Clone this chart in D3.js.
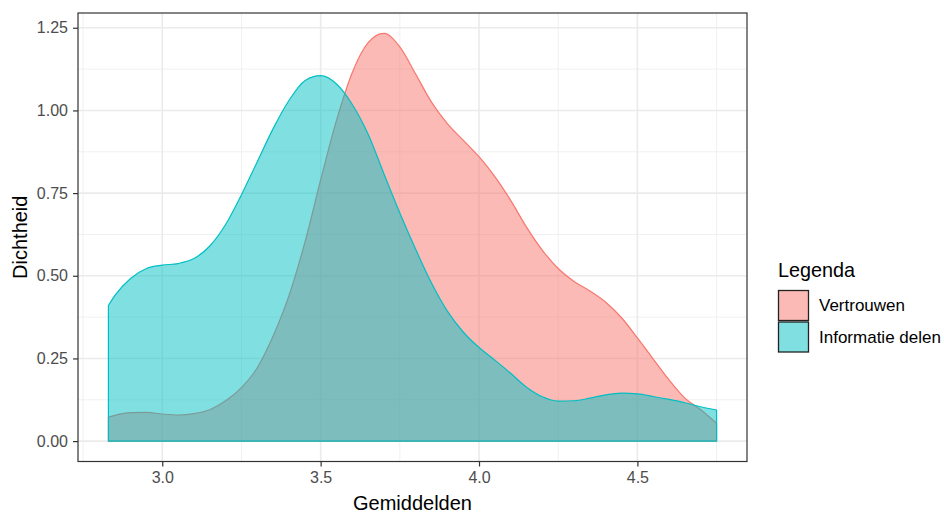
<!DOCTYPE html>
<html>
<head>
<meta charset="utf-8">
<script src="https://cdn.jsdelivr.net/npm/d3@7"></script>
<style>
  html, body { margin: 0; padding: 0; background: #fff; }
  svg { display: block; font-family: "Liberation Sans", Arial, sans-serif; }
</style>
</head>
<body>
<svg id="chart" width="944" height="513"></svg>
<script>
// Evaluation grid (mean scores) shared by both density curves
const gridX = [2.83, 2.85, 2.90, 2.95, 3.00, 3.05, 3.10, 3.15, 3.20, 3.25, 3.30, 3.35, 3.40,
  3.45, 3.50, 3.55, 3.60, 3.65, 3.70, 3.75, 3.80, 3.85, 3.90, 3.95, 4.00, 4.05, 4.10, 4.15,
  4.20, 4.25, 4.30, 4.35, 4.40, 4.45, 4.50, 4.55, 4.60, 4.65, 4.70, 4.75];

// Kernel density estimates
const densVertrouwen = [0.073, 0.078, 0.086, 0.087, 0.082, 0.079, 0.083, 0.095, 0.122, 0.162,
  0.222, 0.318, 0.440, 0.600, 0.790, 0.970, 1.115, 1.205, 1.233, 1.192, 1.110, 1.025, 0.960,
  0.910, 0.860, 0.800, 0.728, 0.647, 0.577, 0.522, 0.483, 0.454, 0.420, 0.373, 0.312, 0.248,
  0.185, 0.130, 0.095, 0.054];

const densInformatie = [0.410, 0.440, 0.492, 0.522, 0.532, 0.537, 0.552, 0.590, 0.655, 0.745,
  0.845, 0.945, 1.030, 1.090, 1.105, 1.080, 1.018, 0.928, 0.808, 0.690, 0.580, 0.478, 0.393,
  0.330, 0.283, 0.245, 0.205, 0.163, 0.134, 0.121, 0.122, 0.130, 0.140, 0.145, 0.143, 0.135,
  0.126, 0.116, 0.104, 0.094];

const seriesNames = ["Vertrouwen", "Informatie delen"];
const seriesColors = ["#F8766D", "#00BFC4"];

const xTicks = [3.0, 3.5, 4.0, 4.5];
const yTicks = [0, 0.25, 0.5, 0.75, 1.0, 1.25];

const svg = d3.select("#chart");
const panel = { left: 78, right: 747, top: 13, bottom: 461.5 };

const xMin = d3.min(gridX), xMax = d3.max(gridX);
const xPad = (xMax - xMin) * 0.05;
const x = d3.scaleLinear().domain([xMin - xPad, xMax + xPad]).range([panel.left, panel.right]);

const yMax = d3.max([...densVertrouwen, ...densInformatie]);
const y = d3.scaleLinear().domain([-0.05 * yMax, 1.05 * yMax]).range([panel.bottom, panel.top]);

// Grid lines (minor first, then major)
const gridG = svg.append("g");
const xMinor = xTicks.map(t => t - 0.25).concat([xTicks[xTicks.length - 1] + 0.25]);
const yMinor = yTicks.slice(1).map(t => t - 0.125);

gridG.selectAll(".xminor").data(xMinor).join("line")
  .attr("x1", d => x(d)).attr("x2", d => x(d))
  .attr("y1", panel.top).attr("y2", panel.bottom)
  .attr("stroke", "#F0F0F0").attr("stroke-width", 1);
gridG.selectAll(".yminor").data(yMinor).join("line")
  .attr("x1", panel.left).attr("x2", panel.right)
  .attr("y1", d => y(d)).attr("y2", d => y(d))
  .attr("stroke", "#F0F0F0").attr("stroke-width", 1);
gridG.selectAll(".xmajor").data(xTicks).join("line")
  .attr("x1", d => x(d)).attr("x2", d => x(d))
  .attr("y1", panel.top).attr("y2", panel.bottom)
  .attr("stroke", "#EBEBEB").attr("stroke-width", 1.6);
gridG.selectAll(".ymajor").data(yTicks).join("line")
  .attr("x1", panel.left).attr("x2", panel.right)
  .attr("y1", d => y(d)).attr("y2", d => y(d))
  .attr("stroke", "#EBEBEB").attr("stroke-width", 1.6);

// Density areas
const series = [densVertrouwen, densInformatie];
const area = d3.area()
  .x((d, i) => x(gridX[i]))
  .y0(y(0))
  .y1(d => y(d))
  .curve(d3.curveMonotoneX);

svg.append("g").selectAll("path").data(series).join("path")
  .attr("d", d => area(d))
  .attr("fill", (d, i) => seriesColors[i])
  .attr("fill-opacity", 0.5)
  .attr("stroke", (d, i) => seriesColors[i])
  .attr("stroke-width", 1.2)
  .attr("stroke-linejoin", "round");

// Panel border
svg.append("rect")
  .attr("x", panel.left).attr("y", panel.top)
  .attr("width", panel.right - panel.left).attr("height", panel.bottom - panel.top)
  .attr("fill", "none").attr("stroke", "#333333").attr("stroke-width", 1.2);

// Axes
const xAxis = d3.axisBottom(x).tickValues(xTicks).tickFormat(d3.format(".1f"))
  .tickSize(5).tickPadding(5);
const yAxis = d3.axisLeft(y).tickValues(yTicks).tickFormat(d3.format(".2f"))
  .tickSize(5).tickPadding(5);

const gx = svg.append("g").attr("transform", `translate(0,${panel.bottom})`).call(xAxis);
const gy = svg.append("g").attr("transform", `translate(${panel.left},0)`).call(yAxis);
[gx, gy].forEach(g => {
  g.select(".domain").remove();
  g.selectAll(".tick line").attr("stroke", "#333333").attr("stroke-width", 1.2);
  g.selectAll(".tick text").attr("fill", "#4D4D4D")
    .style("font-size", "16px").style("font-family", "'Liberation Sans', Arial, sans-serif");
});

// Axis titles
svg.append("text")
  .attr("x", (panel.left + panel.right) / 2).attr("y", 510)
  .attr("text-anchor", "middle").attr("fill", "#000")
  .style("font-size", "20px").text("Gemiddelden");
svg.append("text")
  .attr("transform", `translate(27,${(panel.top + panel.bottom) / 2}) rotate(-90)`)
  .attr("text-anchor", "middle").attr("fill", "#000")
  .style("font-size", "20px").text("Dichtheid");

// Legend
const legend = svg.append("g").attr("transform", "translate(778,0)");
legend.append("text").attr("x", 0).attr("y", 277)
  .attr("fill", "#000").style("font-size", "19.8px").text("Legenda");
const keyRows = legend.selectAll(".key").data(seriesNames).join("g")
  .attr("transform", (d, i) => `translate(0,${290 + i * 31.5})`);
keyRows.append("rect")
  .attr("x", 0.5).attr("y", 0.5).attr("width", 30).attr("height", 30)
  .attr("fill", (d, i) => seriesColors[i]).attr("fill-opacity", 0.5)
  .attr("stroke", "#222").attr("stroke-width", 1.3);
keyRows.append("text")
  .attr("x", 41).attr("y", 15.5).attr("dy", "0.35em")
  .attr("fill", "#000").style("font-size", "17px").text(d => d);
</script>
</body>
</html>
